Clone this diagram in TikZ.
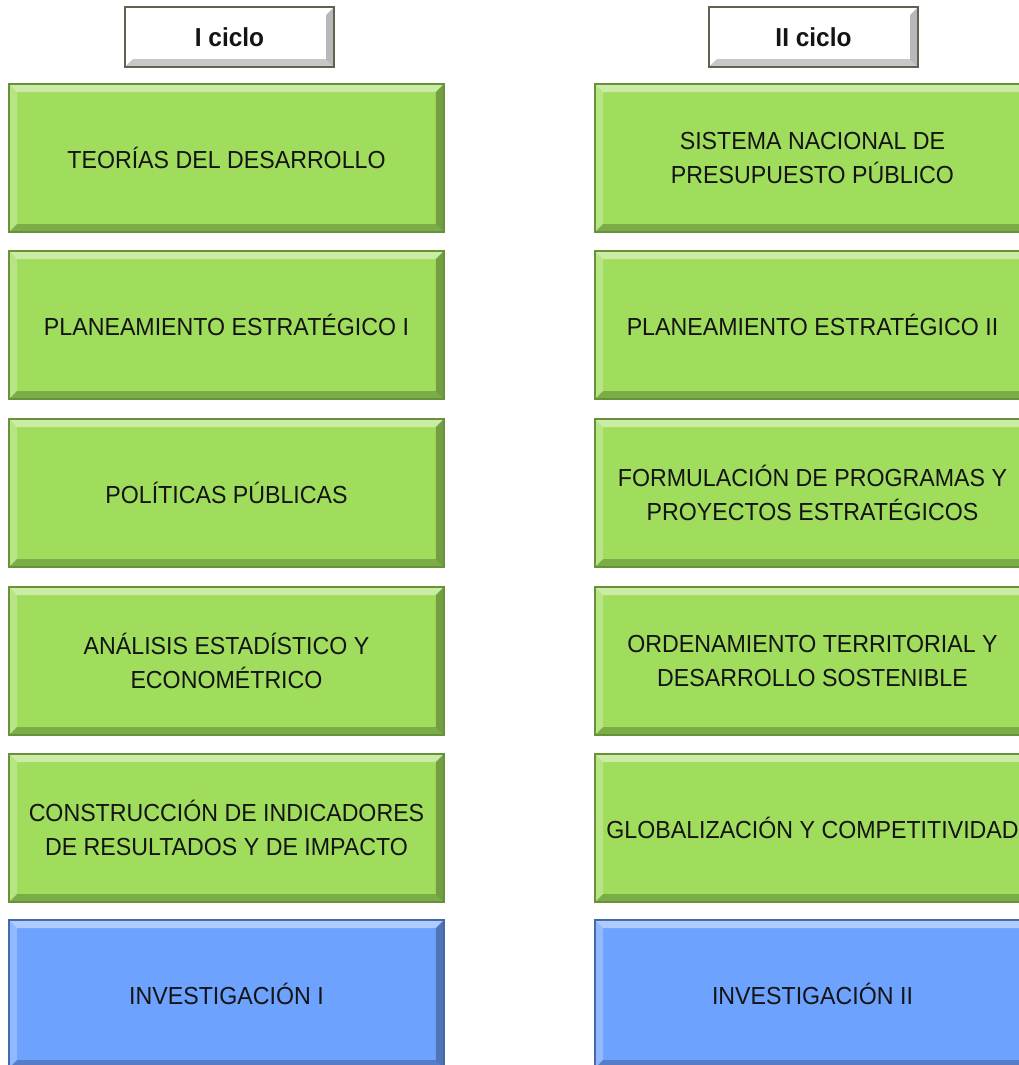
\documentclass[tikz,border=0pt]{standalone}
\usepackage{fontspec}
\setmainfont[FakeStretch=0.94]{Liberation Sans}
\usepackage{tikz}
\usetikzlibrary{calc}

\definecolor{cursoverde}{RGB}{160,221,92}
\definecolor{bordeverde}{RGB}{104,146,58}
\definecolor{cursoazul}{RGB}{110,162,255}
\definecolor{bordeazul}{RGB}{70,105,170}
\definecolor{bordegris}{RGB}{92,100,82}
\definecolor{textocurso}{RGB}{20,20,20}

\tikzset{
  bisel/.style={path picture={
      \def\pb{path picture bounding box}
      \fill[white,opacity=0.45] (\pb.north west) -- (\pb.north east)
        -- ([xshift=-#1,yshift=-#1]\pb.north east) -- ([xshift=#1,yshift=-#1]\pb.north west) -- cycle;
      \fill[white,opacity=0.25] (\pb.north west) -- ([xshift=#1,yshift=-#1]\pb.north west)
        -- ([xshift=#1,yshift=#1]\pb.south west) -- (\pb.south west) -- cycle;
      \fill[black,opacity=0.28] (\pb.north east) -- (\pb.south east)
        -- ([xshift=-#1,yshift=#1]\pb.south east) -- ([xshift=-#1,yshift=-#1]\pb.north east) -- cycle;
      \fill[black,opacity=0.22] (\pb.south west) -- (\pb.south east)
        -- ([xshift=-#1,yshift=#1]\pb.south east) -- ([xshift=#1,yshift=#1]\pb.south west) -- cycle;
  }},
  curso/.style={draw=bordeverde, line width=1.2pt, fill=cursoverde, bisel=6pt,
    minimum width=326pt, minimum height=111pt, text=textocurso,
    font=\fontsize{18.5}{25}\selectfont},
  investigacion/.style={curso, draw=bordeazul, fill=cursoazul},
  ciclo/.style={draw=bordegris, line width=1.2pt, fill=white, bisel=6pt,
    minimum width=157pt, minimum height=45pt, text=textocurso,
    font=\fontsize{19.5}{22}\selectfont\bfseries}
}

\begin{document}
\begin{tikzpicture}[x=0.75pt,y=-0.75pt,align=center]
  \useasboundingbox (0,0) rectangle (1019,1065);
  \clip (0,0) rectangle (1019,1065);
  \def \izq {226.5}
  \def \der {812.5}

  \node[ciclo] (ciclo1) at (229.5,37) {I ciclo};
  \node[ciclo] (ciclo2) at (813.5,37) {II ciclo};

  % primer ciclo
  \node[curso] (teorias) at (\izq,158) {TEORÍAS DEL DESARROLLO};
  \node[curso] (planeamiento1) at (\izq,325) {PLANEAMIENTO ESTRATÉGICO I};
  \node[curso] (politicas) at (\izq,493) {POLÍTICAS PÚBLICAS};
  \node[curso] (analisis) at (\izq,661) {ANÁLISIS ESTADÍSTICO Y\\ECONOMÉTRICO};
  \node[curso] (indicadores) at (\izq,828) {CONSTRUCCIÓN DE INDICADORES\\DE RESULTADOS Y DE IMPACTO};
  \node[investigacion] (investigacion1) at (\izq,994) {INVESTIGACIÓN I};

  % segundo ciclo
  \node[curso] (presupuesto) at (\der,158) {SISTEMA NACIONAL DE\\PRESUPUESTO PÚBLICO};
  \node[curso] (planeamiento2) at (\der,325) {PLANEAMIENTO ESTRATÉGICO II};
  \node[curso] (programas) at (\der,493) {FORMULACIÓN DE PROGRAMAS Y\\PROYECTOS ESTRATÉGICOS};
  \node[curso] (ordenamiento) at (\der,661) {ORDENAMIENTO TERRITORIAL Y\\DESARROLLO SOSTENIBLE};
  \node[curso] (globalizacion) at (\der,828) {GLOBALIZACIÓN Y COMPETITIVIDAD};
  \node[investigacion] (investigacion2) at (\der,994) {INVESTIGACIÓN II};

\end{tikzpicture}
\end{document}
